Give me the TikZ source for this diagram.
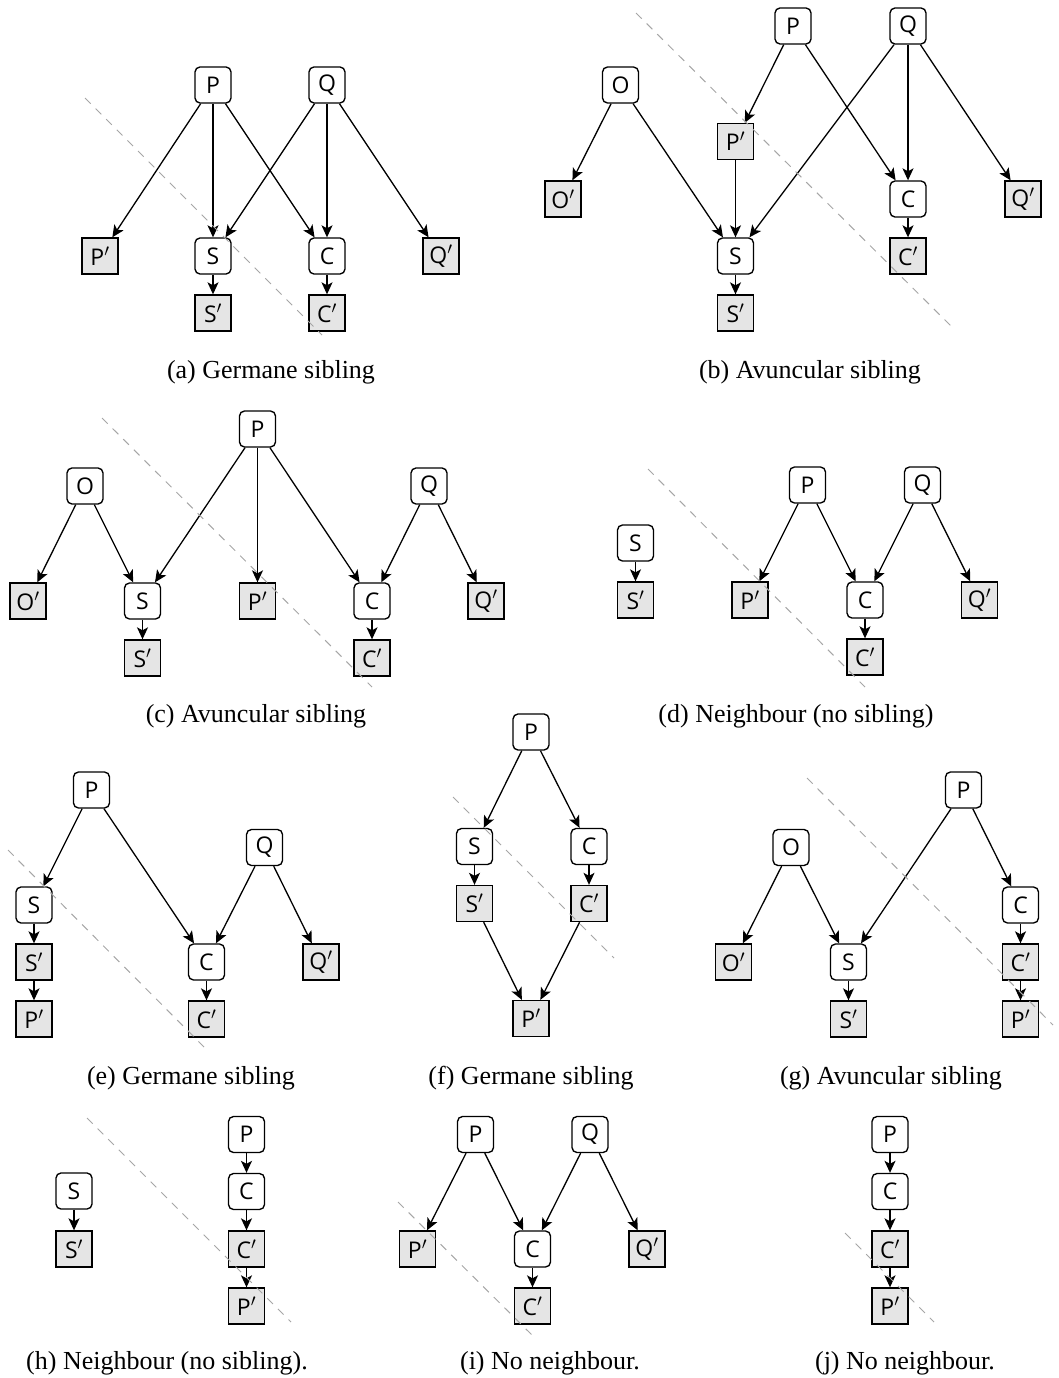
\documentclass[tikz,border=0pt]{standalone}
\usepackage{fontspec}
\setmainfont{Liberation Serif}
\setsansfont{Open Sans}
\usetikzlibrary{arrows.meta}
% label of a copied node: letter followed by a prime
\newcommand{\cpy}[1]{#1$'$}
\tikzset{
  vnode/.style={draw, rounded corners=5pt, minimum width=36pt, minimum height=36pt,
    inner sep=0pt, line width=1.35pt, fill=white,
    font=\sffamily\fontsize{23}{26}\selectfont},
  pnode/.style={vnode, sharp corners, fill=black!10},
  edge/.style={-{Stealth[length=12pt,width=11pt,inset=3pt]}, line width=1.3pt},
  cutline/.style={draw=black!35, line width=1pt, dash pattern=on 8pt off 7pt},
  subcap/.style={anchor=base, font=\fontsize{26}{30}\selectfont},
}
\begin{document}
\begin{tikzpicture}[x=1pt, y=-1pt]
\useasboundingbox (0,0) rectangle (1058,1378);

% ---------- (a) ----------
\node[vnode] (aP)  at (213,85)  {P};
\node[vnode] (aQ)  at (327,85)  {Q};
\node[pnode] (aPp) at (100,256) {\cpy{P}};
\node[vnode] (aS)  at (213,256) {S};
\node[vnode] (aC)  at (327,256) {C};
\node[pnode] (aQp) at (441,256) {\cpy{Q}};
\node[pnode] (aSp) at (213,313) {\cpy{S}};
\node[pnode] (aCp) at (327,313) {\cpy{C}};
\draw[edge] (aP) -- (aPp);
\draw[edge] (aP) -- (aS);
\draw[edge] (aP) -- (aC);
\draw[edge] (aQ) -- (aS);
\draw[edge] (aQ) -- (aC);
\draw[edge] (aQ) -- (aQp);
\draw[edge] (aS) -- (aSp);
\draw[edge] (aC) -- (aCp);
\coordinate (acut1) at (85,98);
\coordinate (acut2) at (322,335);
\draw[cutline] (acut1) -- (acut2);
\node[subcap] (acap) at (271,378) {(a) Germane sibling};

% ---------- (b) ----------
\node[vnode] (bO)  at (620.5,85)  {O};
\node[vnode] (bP)  at (793,26)    {P};
\node[vnode] (bQ)  at (908,26)    {Q};
\node[pnode] (bOp) at (563,199)   {\cpy{O}};
\node[pnode] (bPp) at (735.5,141.5) {\cpy{P}};
\node[vnode] (bC)  at (908,199)   {C};
\node[pnode] (bQp) at (1023,199)  {\cpy{Q}};
\node[vnode] (bS)  at (735.5,256) {S};
\node[pnode] (bSp) at (735.5,313) {\cpy{S}};
\node[pnode] (bCp) at (908,256)   {\cpy{C}};
\draw[edge] (bO) -- (bOp);
\draw[edge] (bO) -- (bS);
\draw[edge] (bP) -- (bPp);
\draw[edge] (bP) -- (bC);
\draw[edge] (bPp) -- (bS);
\draw[edge] (bQ) -- (bS);
\draw[edge] (bQ) -- (bC);
\draw[edge] (bQ) -- (bQp);
\draw[edge] (bS) -- (bSp);
\draw[edge] (bC) -- (bCp);
\coordinate (bcut1) at (636,13);
\coordinate (bcut2) at (953,328);
\draw[cutline] (bcut1) -- (bcut2);
\node[subcap] (bcap) at (810,378) {(b) Avuncular sibling};

% ---------- (c) ----------
\node[vnode] (cO)  at (85,486)    {O};
\node[vnode] (cP)  at (257.5,429) {P};
\node[vnode] (cQ)  at (429,486)   {Q};
\node[pnode] (cOp) at (28,601)    {\cpy{O}};
\node[vnode] (cS)  at (142.5,601) {S};
\node[pnode] (cPp) at (257.5,601) {\cpy{P}};
\node[vnode] (cC)  at (372,601)   {C};
\node[pnode] (cQp) at (486,601)   {\cpy{Q}};
\node[pnode] (cSp) at (142.5,658) {\cpy{S}};
\node[pnode] (cCp) at (372,658)   {\cpy{C}};
\draw[edge] (cO) -- (cOp);
\draw[edge] (cO) -- (cS);
\draw[edge] (cP) -- (cS);
\draw[edge] (cP) -- (cPp);
\draw[edge] (cP) -- (cC);
\draw[edge] (cQ) -- (cC);
\draw[edge] (cQ) -- (cQp);
\draw[edge] (cS) -- (cSp);
\draw[edge] (cC) -- (cCp);
\coordinate (ccut1) at (102,418);
\coordinate (ccut2) at (372,687);
\draw[cutline] (ccut1) -- (ccut2);
\node[subcap] (ccap) at (256,722) {(c) Avuncular sibling};

% ---------- (d) ----------
\node[vnode] (dS)  at (635.5,543) {S};
\node[pnode] (dSp) at (635.5,600) {\cpy{S}};
\node[vnode] (dP)  at (807.5,485) {P};
\node[vnode] (dQ)  at (922.5,485) {Q};
\node[pnode] (dPp) at (750,600)   {\cpy{P}};
\node[vnode] (dC)  at (865,600)   {C};
\node[pnode] (dQp) at (979.5,600) {\cpy{Q}};
\node[pnode] (dCp) at (865,657)   {\cpy{C}};
\draw[edge] (dS) -- (dSp);
\draw[edge] (dP) -- (dPp);
\draw[edge] (dP) -- (dC);
\draw[edge] (dQ) -- (dC);
\draw[edge] (dQ) -- (dQp);
\draw[edge] (dC) -- (dCp);
\coordinate (dcut1) at (648,469);
\coordinate (dcut2) at (865,687);
\draw[cutline] (dcut1) -- (dcut2);
\node[subcap] (dcap) at (796,722) {(d) Neighbour (no sibling)};

% ---------- (e) ----------
\node[vnode] (eP)  at (91.5,790)   {P};
\node[vnode] (eQ)  at (264.5,847.5) {Q};
\node[vnode] (eS)  at (34,905)     {S};
\node[pnode] (eSp) at (34,962)     {\cpy{S}};
\node[pnode] (ePp) at (34,1019)    {\cpy{P}};
\node[vnode] (eC)  at (206.5,962)  {C};
\node[pnode] (eCp) at (206.5,1019) {\cpy{C}};
\node[pnode] (eQp) at (321,962)    {\cpy{Q}};
\draw[edge] (eP) -- (eS);
\draw[edge] (eP) -- (eC);
\draw[edge] (eQ) -- (eC);
\draw[edge] (eQ) -- (eQp);
\draw[edge] (eS) -- (eSp);
\draw[edge] (eSp) -- (ePp);
\draw[edge] (eC) -- (eCp);
\coordinate (ecut1) at (8,850);
\coordinate (ecut2) at (205,1048);
\draw[cutline] (ecut1) -- (ecut2);
\node[subcap] (ecap) at (191,1084) {(e) Germane sibling};

% ---------- (f) ----------
\node[vnode] (fP)  at (531,732)     {P};
\node[vnode] (fS)  at (474.5,846.5) {S};
\node[vnode] (fC)  at (589,846.5)   {C};
\node[pnode] (fSp) at (474.5,903.5) {\cpy{S}};
\node[pnode] (fCp) at (589,903.5)   {\cpy{C}};
\node[pnode] (fPp) at (531,1018.5)  {\cpy{P}};
\draw[edge] (fP) -- (fS);
\draw[edge] (fP) -- (fC);
\draw[edge] (fS) -- (fSp);
\draw[edge] (fC) -- (fCp);
\draw[edge] (fSp) -- (fPp);
\draw[edge] (fCp) -- (fPp);
\coordinate (fcut1) at (453,797);
\coordinate (fcut2) at (614,958);
\draw[cutline] (fcut1) -- (fcut2);
\node[subcap] (fcap) at (531,1084) {(f) Germane sibling};

% ---------- (g) ----------
\node[vnode] (gP)  at (963.5,790)  {P};
\node[vnode] (gO)  at (791,847.5)  {O};
\node[pnode] (gOp) at (733.5,962)  {\cpy{O}};
\node[vnode] (gS)  at (848.5,962)  {S};
\node[pnode] (gSp) at (848.5,1019) {\cpy{S}};
\node[vnode] (gC)  at (1020.5,905) {C};
\node[pnode] (gCp) at (1020.5,962) {\cpy{C}};
\node[pnode] (gPp) at (1020.5,1019) {\cpy{P}};
\draw[edge] (gO) -- (gOp);
\draw[edge] (gO) -- (gS);
\draw[edge] (gP) -- (gS);
\draw[edge] (gP) -- (gC);
\draw[edge] (gS) -- (gSp);
\draw[edge] (gC) -- (gCp);
\draw[edge] (gCp) -- (gPp);
\coordinate (gcut1) at (807,778);
\coordinate (gcut2) at (1053,1025);
\draw[cutline] (gcut1) -- (gcut2);
\node[subcap] (gcap) at (891,1084) {(g) Avuncular sibling};

% ---------- (h) ----------
\node[vnode] (hS)  at (74,1191)     {S};
\node[pnode] (hSp) at (74,1249)     {\cpy{S}};
\node[vnode] (hP)  at (246.5,1134.5) {P};
\node[vnode] (hC)  at (246.5,1191.5) {C};
\node[pnode] (hCp) at (246.5,1249)  {\cpy{C}};
\node[pnode] (hPp) at (246.5,1306)  {\cpy{P}};
\draw[edge] (hS) -- (hSp);
\draw[edge] (hP) -- (hC);
\draw[edge] (hC) -- (hCp);
\draw[edge] (hCp) -- (hPp);
\coordinate (hcut1) at (87,1118);
\coordinate (hcut2) at (291,1322);
\draw[cutline] (hcut1) -- (hcut2);
\node[subcap] (hcap) at (167,1369) {(h) Neighbour (no sibling).};

% ---------- (i) ----------
\node[vnode] (iP)  at (475.5,1134.5) {P};
\node[vnode] (iQ)  at (590,1134.5)   {Q};
\node[pnode] (iPp) at (417.5,1249)   {\cpy{P}};
\node[vnode] (iC)  at (532.5,1249)   {C};
\node[pnode] (iQp) at (647,1249)     {\cpy{Q}};
\node[pnode] (iCp) at (532.5,1306)   {\cpy{C}};
\draw[edge] (iP) -- (iPp);
\draw[edge] (iP) -- (iC);
\draw[edge] (iQ) -- (iC);
\draw[edge] (iQ) -- (iQp);
\draw[edge] (iC) -- (iCp);
\coordinate (icut1) at (398,1202);
\coordinate (icut2) at (532,1335);
\draw[cutline] (icut1) -- (icut2);
\node[subcap] (icap) at (550,1369) {(i) No neighbour.};

% ---------- (j) ----------
\node[vnode] (jP)  at (890,1134.5) {P};
\node[vnode] (jC)  at (890,1191.5) {C};
\node[pnode] (jCp) at (890,1249)   {\cpy{C}};
\node[pnode] (jPp) at (890,1306)   {\cpy{P}};
\draw[edge] (jP) -- (jC);
\draw[edge] (jC) -- (jCp);
\draw[edge] (jCp) -- (jPp);
\coordinate (jcut1) at (845,1233);
\coordinate (jcut2) at (934,1322);
\draw[cutline] (jcut1) -- (jcut2);
\node[subcap] (jcap) at (905,1369) {(j) No neighbour.};
\end{tikzpicture}
\end{document}
